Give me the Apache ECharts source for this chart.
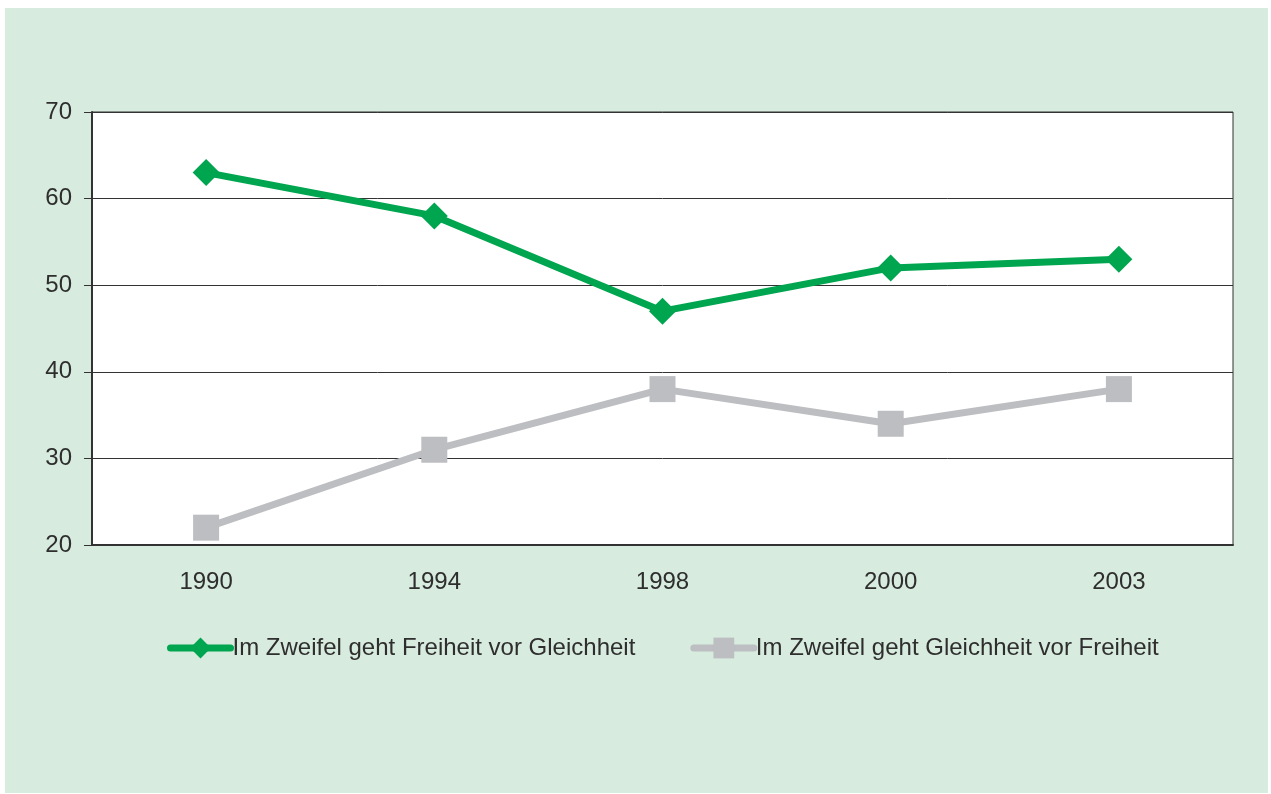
<!DOCTYPE html>
<html>
<head>
<meta charset="utf-8">
<script src="https://cdn.jsdelivr.net/npm/echarts@6/dist/echarts.min.js"></script>
<style>
  html, body { margin: 0; padding: 0; background: #fff; }
  #panel { position: absolute; left: 5px; top: 8px; width: 1263px; height: 785px; background: #d7ebdf; }
  #chart { position: absolute; left: 0; top: 0; width: 1271px; height: 794px; }
</style>
</head>
<body>
<div id="panel"></div>
<div id="chart"></div>
<script>
var years = ['1990', '1994', '1998', '2000', '2003'];
var freiheit = [63, 58, 47, 52, 53];
var gleichheit = [22, 31, 38, 34, 38];
var yTicks = { min: 20, max: 70, step: 10 };

var textColor = '#2e2e2e';
var font = "'Liberation Sans', Arial, sans-serif";

var chart = echarts.init(document.getElementById('chart'));

chart.setOption({
  animation: false,
  grid: {
    left: 92, top: 112, right: 38, bottom: 249,
    show: true,
    backgroundColor: '#ffffff',
    borderColor: '#333333',
    borderWidth: 1
  },
  legend: {
    top: 631,
    left: 162,
    itemWidth: 60,
    itemHeight: 26,
    itemGap: 55,
    lineStyle: { width: 7, cap: 'round' },
    textStyle: { color: textColor, fontSize: 24, fontFamily: font, padding: [0, 0, 0, -3] },
    data: ['Im Zweifel geht Freiheit vor Gleichheit', 'Im Zweifel geht Gleichheit vor Freiheit']
  },
  xAxis: {
    type: 'category',
    data: years,
    axisLine: { lineStyle: { color: '#333333', width: 2 } },
    axisTick: { length: 9, lineStyle: { color: '#333333' } },
    axisLabel: { color: textColor, fontSize: 24, fontFamily: font, margin: 25 }
  },
  yAxis: {
    type: 'value',
    min: yTicks.min,
    max: yTicks.max,
    interval: yTicks.step,
    axisLine: { show: true, lineStyle: { color: '#333333', width: 2 } },
    axisTick: { show: true, length: 8, lineStyle: { color: '#333333' } },
    axisLabel: { color: textColor, fontSize: 24, fontFamily: font, margin: 20 },
    splitLine: { lineStyle: { color: '#333333', width: 1 } }
  },
  series: [
    {
      name: 'Im Zweifel geht Freiheit vor Gleichheit',
      type: 'line',
      data: freiheit,
      symbol: 'diamond',
      symbolSize: 27,
      lineStyle: { color: '#00a54f', width: 7 },
      itemStyle: { color: '#00a54f' }
    },
    {
      name: 'Im Zweifel geht Gleichheit vor Freiheit',
      type: 'line',
      data: gleichheit,
      symbol: 'rect',
      symbolSize: 26,
      lineStyle: { color: '#bdbec1', width: 7 },
      itemStyle: { color: '#bdbec1' }
    }
  ]
});
</script>
</body>
</html>
